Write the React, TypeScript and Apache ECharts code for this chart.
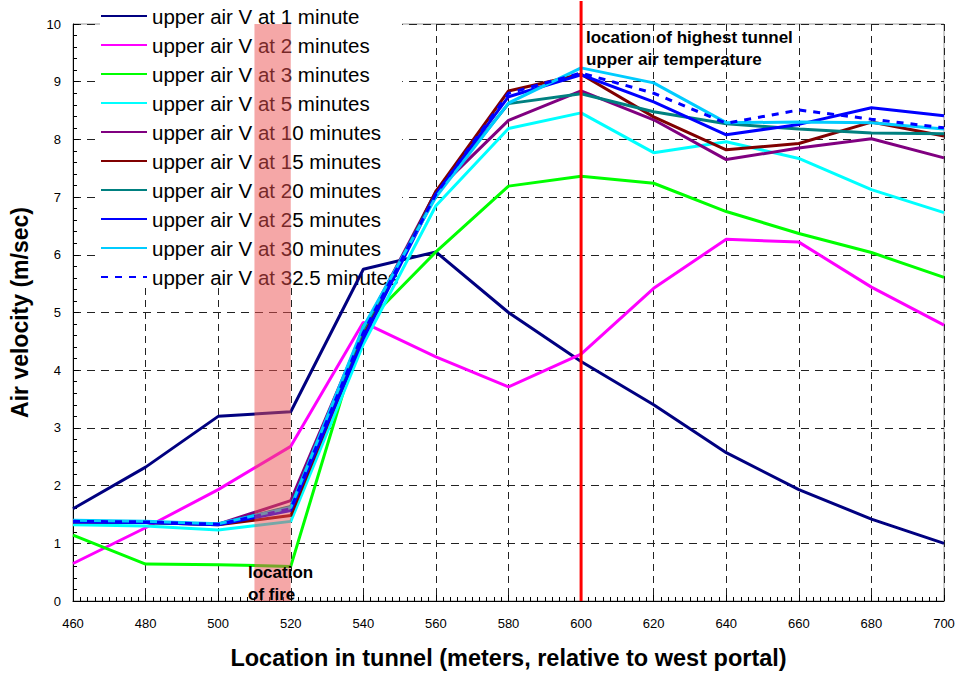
import React, { useEffect, useRef } from "react";
import * as echarts from "echarts";

const xValues = [460, 480, 500, 520, 540, 560, 580, 600, 620, 640, 660, 680, 700];

const v1 = [1.6, 2.32, 3.2, 3.28, 5.75, 6.05, 5.0, 4.15, 3.4, 2.57, 1.93, 1.42, 1.0];
const v2 = [0.65, 1.27, 1.93, 2.68, 4.83, 4.23, 3.71, 4.28, 5.42, 6.27, 6.22, 5.44, 4.78];
const v3 = [1.14, 0.64, 0.63, 0.6, 4.77, 6.05, 7.19, 7.36, 7.24, 6.75, 6.37, 6.04, 5.61];
const v5 = [1.32, 1.3, 1.23, 1.38, 4.45, 6.85, 8.19, 8.46, 7.77, 7.96, 7.67, 7.13, 6.73];
const v10 = [1.38, 1.36, 1.33, 1.74, 4.7, 7.1, 8.33, 8.84, 8.34, 7.65, 7.85, 8.01, 7.68];
const v15 = [1.37, 1.36, 1.32, 1.48, 4.6, 7.1, 8.84, 9.13, 8.39, 7.82, 7.93, 8.3, 8.06];
const v20 = [1.38, 1.36, 1.33, 1.64, 4.7, 7.05, 8.62, 8.79, 8.48, 8.27, 8.18, 8.11, 8.1];
const v25 = [1.37, 1.36, 1.32, 1.57, 4.55, 7.05, 8.74, 9.12, 8.65, 8.08, 8.26, 8.55, 8.41];
const v30 = [1.4, 1.38, 1.34, 1.62, 4.75, 7.0, 8.63, 9.24, 8.98, 8.29, 8.3, 8.29, 8.18];
const v325 = [1.38, 1.37, 1.33, 1.6, 4.65, 7.05, 8.8, 9.15, 8.8, 8.28, 8.51, 8.35, 8.2];

const seriesNames = [
  "upper air V at 1 minute",
  "upper air V at 2 minutes",
  "upper air V at 3 minutes",
  "upper air V at 5 minutes",
  "upper air V at 10 minutes",
  "upper air V at 15 minutes",
  "upper air V at 20 minutes",
  "upper air V at 25 minutes",
  "upper air V at 30 minutes",
  "upper air V at 32.5 minutes",
];
const seriesValues = [v1, v2, v3, v5, v10, v15, v20, v25, v30, v325];
const seriesColors = [
  "#000080", "#FF00FF", "#00FF00", "#00FFFF", "#800080",
  "#800000", "#008080", "#0000FF", "#00CCFF", "#0000FF",
];

const fireStart = 510;
const fireEnd = 520;
const hottestX = 600;

export default function App() {
  const ref = useRef<HTMLDivElement>(null);
  useEffect(() => {
    if (!ref.current) return;
    const chart = echarts.init(ref.current, undefined, { renderer: "svg" });
    const font = "Arial, 'Liberation Sans', sans-serif";
    const lineSeries = seriesNames.map((name, i) => ({
      name,
      type: "line",
      data: xValues.map((x, j) => [x, seriesValues[i][j]]),
      symbol: "none",
      showSymbol: false,
      z: 5,
      lineStyle: {
        color: seriesColors[i],
        width: 3,
        type: i === 9 ? [7, 7] : "solid",
      },
      itemStyle: { color: seriesColors[i] },
    }));
    chart.setOption({
      animation: false,
      backgroundColor: "#fff",
      grid: {
        left: 72,
        right: 15,
        top: 24,
        bottom: 72,
        show: true,
        borderColor: "#999",
        borderWidth: 1,
      },
      legend: {
        data: seriesNames.map((n) => ({ name: n, itemStyle: { opacity: 0 } })),
        orient: "vertical",
        left: 100,
        top: 5,
        z: 4,
        itemWidth: 46,
        itemHeight: 14,
        itemGap: 7,
        backgroundColor: "#fff",
        padding: [0, 4, 0, 0],
        textStyle: { fontSize: 20.5, fontFamily: font, color: "#000", lineHeight: 22 },
      },
      xAxis: {
        type: "value",
        min: 460,
        max: 700,
        interval: 20,
        name: "Location in tunnel (meters, relative to west portal)",
        nameLocation: "middle",
        nameGap: 45,
        nameTextStyle: { fontSize: 23.5, fontWeight: "bold", fontFamily: font, color: "#000" },
        axisLine: { lineStyle: { color: "#000", width: 1 } },
        axisTick: { inside: true, length: 6, lineStyle: { color: "#000" } },
        minorTick: { show: true, splitNumber: 10, length: 4, lineStyle: { color: "#000" } },
        axisLabel: { fontSize: 13, fontFamily: font, color: "#000", margin: 16 },
        splitLine: { show: true, lineStyle: { color: "#222", type: [7, 5], width: 1 } },
      },
      yAxis: {
        type: "value",
        min: 0,
        max: 10,
        interval: 1,
        name: "Air velocity (m/sec)",
        nameLocation: "middle",
        nameGap: 42,
        nameTextStyle: { fontSize: 23, fontWeight: "bold", fontFamily: font, color: "#000" },
        axisLine: { show: true, lineStyle: { color: "#000", width: 1 } },
        axisTick: { show: true, inside: true, length: 6, lineStyle: { color: "#000" } },
        minorTick: { show: true, splitNumber: 5, length: 4, lineStyle: { color: "#000" } },
        axisLabel: { fontSize: 13, fontFamily: font, color: "#000", margin: 12 },
        splitLine: { show: true, lineStyle: { color: "#222", type: [8, 6], width: 1 } },
      },
      series: [
        ...lineSeries,
        {
          name: "marker",
          type: "line",
          data: [[hottestX, 0], [hottestX, 10.4]],
          symbol: "none",
          clip: false,
          z: 10,
          silent: true,
          lineStyle: { color: "#FF0000", width: 3 },
          markArea: {
            silent: true,
            z: 12,
            itemStyle: { color: "rgba(235,80,80,0.5)" },
            data: [[{ coord: [fireStart, 0] }, { coord: [fireEnd, 10] }]],
          },
        },
      ],
      graphic: [
        {
          type: "text",
          left: 586,
          top: 26,
          z: 20,
          style: {
            text: "location of highest tunnel\nupper air temperature",
            font: `bold 17px ${font}`,
            fill: "#000",
            lineHeight: 22,
          },
        },
        {
          type: "text",
          left: 248,
          top: 561,
          z: 20,
          style: {
            text: "location\nof fire",
            font: `bold 17px ${font}`,
            fill: "#000",
            lineHeight: 22,
          },
        },
      ],
    });
    return () => chart.dispose();
  }, []);
  return (
    <div
      ref={ref}
      style={{ position: "fixed", left: 0, top: 0, width: 959, height: 675 }}
    />
  );
}
